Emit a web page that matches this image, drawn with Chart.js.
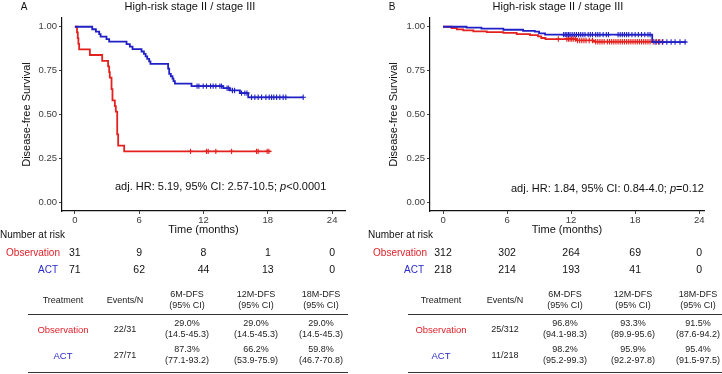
<!DOCTYPE html>
<html>
<head>
<meta charset="utf-8">
<script src="https://cdn.jsdelivr.net/npm/chart.js@4.4.1/dist/chart.umd.min.js"></script>
<style>
  body { margin: 0; background: #fff; font-family: "Liberation Sans", Arial, sans-serif; }
  #fig { position: relative; width: 722px; height: 374px; overflow: hidden; background: #fff; }
  #fig canvas { position: absolute; top: 0; }
  .c { position: absolute; white-space: pre; text-align: center; transform: translate(-50%, -50%); }
  .r { position: absolute; white-space: pre; transform: translate(-100%, -50%); }
  .l { position: absolute; white-space: pre; transform: translate(0, -50%); }
  .tab { font-size: 9px; line-height: 11px; color: #222; }
  .risk { font-size: 10.5px; color: #111; }
  .rule { position: absolute; height: 0; border-top: 1px solid #333; }
</style>
</head>
<body>
<div id="fig">
  <canvas id="kmA" width="361" height="240" style="left:0px"></canvas>
  <canvas id="kmB" width="361" height="240" style="left:361px"></canvas>
</div>
<script>
// ---- Data ----
const timeTicks = [0, 6, 12, 18, 24];
const survTicks = [0, 0.25, 0.5, 0.75, 1];

// Panel A: KM steps (time in months, survival)
const actA_t = [0, 1.62, 1.96, 2.27, 2.4, 2.95, 3.2, 4.82, 5.13, 5.38, 6.22, 6.44, 6.6, 6.75, 6.93, 7.05, 8.7, 8.8, 8.95, 9.11, 9.2, 9.33, 10.88, 13.84, 14.46, 15.4, 16.17, 21.3];
const actA_s = [1, 0.986, 0.972, 0.958, 0.944, 0.93, 0.915, 0.901, 0.887, 0.873, 0.859, 0.845, 0.831, 0.817, 0.803, 0.789, 0.761, 0.732, 0.718, 0.704, 0.69, 0.676, 0.662, 0.65, 0.637, 0.622, 0.598, 0.598];
const actA_cens = [11.4, 11.57, 11.97, 12.28, 12.66, 12.9, 13.15, 13.53, 13.68, 14.2, 14.35, 14.7, 14.9, 15.55, 15.86, 16.05, 16.48, 16.79, 17.1, 17.42, 17.82, 18.13, 18.35, 18.56, 18.82, 19.12, 19.43, 19.68, 21.3];
const obsA_t = [0, 0.2, 0.27, 0.33, 0.4, 1.4, 2.55, 3.1, 3.2, 3.26, 3.42, 3.51, 3.73, 3.82, 3.95, 4.04, 4.6, 18.25];
const obsA_s = [1, 0.968, 0.935, 0.903, 0.871, 0.839, 0.806, 0.774, 0.742, 0.71, 0.645, 0.581, 0.548, 0.516, 0.387, 0.323, 0.29, 0.29];
const obsA_cens = [10.79, 12.28, 12.44, 13.15, 14.62, 16.95, 17.1, 17.94, 18.1];

// Panel B
const actB_t = [0, 2.2, 3.6, 5.65, 7.5, 8.6, 9.0, 9.56, 19.6, 22.8];
const actB_s = [1, 0.995, 0.989, 0.983, 0.977, 0.972, 0.962, 0.955, 0.913, 0.913];
const actB_cens = [11.3, 11.45, 11.6, 11.75, 11.9, 12.1, 12.3, 12.5, 12.7, 12.9, 13.1, 13.3, 13.6, 13.8, 14.0, 14.3, 14.5, 14.7, 15.0, 15.3, 15.5, 16.4, 16.6, 16.8, 17.0, 17.2, 17.4, 17.7, 18.0, 18.3, 18.6, 18.9, 19.2, 19.4, 19.87, 20.2, 20.55, 20.97, 21.37, 21.74, 22.2, 22.68];
const obsB_t = [0, 0.8, 1.3, 1.9, 2.84, 4.1, 5.65, 6.9, 8.15, 8.9, 9.2, 9.6, 12.5, 14.1, 20.6];
const obsB_s = [1, 0.992, 0.985, 0.979, 0.974, 0.969, 0.965, 0.958, 0.952, 0.945, 0.936, 0.93, 0.922, 0.915, 0.915];
const obsB_cens = [10.8, 11.6, 11.75, 11.9, 12.05, 12.2, 12.4, 12.6, 12.8, 13.0, 13.2, 13.4, 13.7, 14.0, 14.3, 14.5, 14.7, 14.9, 15.1, 15.4, 15.6, 15.8, 16.0, 16.2, 16.4, 16.6, 16.8, 17.0, 17.2, 17.4, 17.6, 17.8, 18.0, 18.2, 18.4, 18.6, 18.8, 19.0, 19.2, 19.4, 19.7, 20.0, 20.3, 20.6];

// Number at risk
const riskObsA = [31, 9, 8, 1, 0];
const riskActA = [71, 62, 44, 13, 0];
const riskObsB = [312, 302, 264, 69, 0];
const riskActB = [218, 214, 193, 41, 0];

// Summary tables
const tableHead = ["Treatment", "Events/N", "6M-DFS\n(95% CI)", "12M-DFS\n(95% CI)", "18M-DFS\n(95% CI)"];
const groups = ["Observation", "ACT"];
const rowsA = [
  ["22/31", "29.0%\n(14.5-45.3)", "29.0%\n(14.5-45.3)", "29.0%\n(14.5-45.3)"],
  ["27/71", "87.3%\n(77.1-93.2)", "66.2%\n(53.9-75.9)", "59.8%\n(46.7-70.8)"]
];
const rowsB = [
  ["25/312", "96.8%\n(94.1-98.3)", "93.3%\n(89.9-95.6)", "91.5%\n(87.6-94.2)"],
  ["11/218", "98.2%\n(95.2-99.3)", "95.9%\n(92.2-97.8)", "95.4%\n(91.5-97.5)"]
];

const RED = "#e3211f";
const BLUE = "#2020c4";
const TXT_RED = "#e0202a";
const TXT_BLUE = "#2a2ac8";

// ---- Helpers ----
function survAt(ts, ss, t) {
  let s = ss[0];
  for (let i = 0; i < ts.length; i++) if (ts[i] <= t) s = ss[i];
  return s;
}
const curve = (ts, ss) => ts.map((t, i) => ({ x: t, y: ss[i] }));
const marks = (cs, ts, ss) => cs.map(t => ({ x: t, y: survAt(ts, ss, t) }));

function stepSet(data, color) {
  return { data, borderColor: color, borderWidth: 1.8, stepped: "before", pointRadius: 0, fill: false };
}
function censSet(data, color) {
  return { data, showLine: false, pointStyle: "cross", pointRadius: 2.7, borderColor: color, borderWidth: 1.1, backgroundColor: color };
}

function kmChart(id, sets, opt) {
  return new Chart(document.getElementById(id), {
    type: "line",
    data: { datasets: sets },
    options: {
      responsive: false,
      animation: false,
      layout: { padding: { left: 0, right: opt.padRight, top: 18, bottom: 0 } },
      plugins: { legend: { display: false }, tooltip: { enabled: false } },
      scales: {
        x: {
          type: "linear", min: opt.xmin, max: opt.xmax,
          afterBuildTicks: s => { s.ticks = timeTicks.map(v => ({ value: v })); },
          afterFit: s => { s.height = 29; },
          grid: { drawOnChartArea: false, tickLength: 3, color: "#444" },
          border: { color: "#111", width: 1.2 },
          ticks: { font: { size: 9.5, family: "Liberation Sans" }, color: "#3a3a3a", padding: 1, maxRotation: 0 },
          title: { display: true, text: "Time (months)", font: { size: 11, family: "Liberation Sans" }, color: "#111", padding: { top: 0, bottom: 3 } }
        },
        y: {
          min: -0.05, max: 1.05,
          afterBuildTicks: s => { s.ticks = survTicks.map(v => ({ value: v })); },
          afterFit: s => { s.width = opt.yWidth; },
          grid: { drawOnChartArea: false, tickLength: 3, color: "#444" },
          border: { color: "#111", width: 1.2 },
          ticks: { font: { size: 9.5, family: "Liberation Sans" }, color: "#3a3a3a", padding: 2, callback: v => v.toFixed(2) },
          title: { display: true, text: "Disease-free Survival", font: { size: 11, family: "Liberation Sans" }, color: "#111", padding: { top: opt.yTitlePad, bottom: 0 } }
        }
      }
    }
  });
}

const chartA = kmChart("kmA", [
  stepSet(curve(actA_t, actA_s), BLUE),
  censSet(marks(actA_cens, actA_t, actA_s), BLUE),
  stepSet(curve(obsA_t, obsA_s), RED),
  censSet(marks(obsA_cens, obsA_t, obsA_s), RED)
], { xmin: -1.2, xmax: 25.2, padRight: 16, yWidth: 62, yTitlePad: 20 });

const chartB = kmChart("kmB", [
  stepSet(curve(actB_t, actB_s), BLUE),
  censSet(marks(actB_cens, actB_t, actB_s), BLUE),
  stepSet(curve(obsB_t, obsB_s), RED),
  censSet(marks(obsB_cens, obsB_t, obsB_s), RED)
], { xmin: -1.22, xmax: 24.45, padRight: 18, yWidth: 69, yTitlePad: 26 });

// ---- HTML text layers ----
const fig = document.getElementById("fig");
function addText(txt, x, y, cls, style) {
  const d = document.createElement("div");
  d.className = cls;
  d.textContent = txt;
  d.style.left = x + "px";
  d.style.top = y + "px";
  Object.assign(d.style, style || {});
  fig.appendChild(d);
  return d;
}
function addRule(x1, x2, y) {
  const d = document.createElement("div");
  d.className = "rule";
  d.style.left = x1 + "px";
  d.style.width = (x2 - x1) + "px";
  d.style.top = y + "px";
  fig.appendChild(d);
}

function panelText(o) {
  addText(o.tag, o.tagX, 6, "c", { fontSize: "10px", color: "#111" });
  addText("High-risk stage II / stage III", o.titleX, 6, "c", { fontSize: "11px", color: "#111" });
  const hr = addText("", o.hrX, o.hrY, "l", { fontSize: "11px", color: "#111" });
  hr.innerHTML = o.hr;

  // number at risk, aligned on the chart's own x scale
  addText("Number at risk", o.nrX, 234, "l", { fontSize: "10px", color: "#111" });
  addText("Observation", o.obsLabX, 252, "r risk", { color: TXT_RED, fontSize: "10px" });
  addText("ACT", o.actLabX, 269, "r risk", { color: TXT_BLUE, fontSize: "10px" });
  const xs = o.chart.scales.x;
  timeTicks.forEach((t, i) => {
    const px = o.offset + xs.getPixelForValue(t);
    addText(String(o.riskObs[i]), px, 252, "c risk");
    addText(String(o.riskAct[i]), px, 269, "c risk");
  });

  // summary table
  tableHead.forEach((h, j) => addText(h, o.cols[j], 300, "c tab"));
  addRule(o.ruleX1, o.ruleX2, 314);
  groups.forEach((g, i) => {
    const y = i === 0 ? 329 : 354.5;
    addText(g, o.cols[0], y, "c tab", { color: i === 0 ? TXT_RED : TXT_BLUE, fontSize: "9.5px" });
    o.rows[i].forEach((cell, j) => addText(cell, o.cols[j + 1], y, "c tab"));
  });
  addRule(o.ruleX1, o.ruleX2, 372);
}

panelText({
  chart: chartA, offset: 0, tag: "A", tagX: 24, titleX: 190,
  hr: "adj. HR: 5.19, 95% CI: 2.57-10.5; <i>p</i>&lt;0.0001", hrX: 115, hrY: 186,
  nrX: 0, obsLabX: 60, actLabX: 58, riskObs: riskObsA, riskAct: riskActA,
  cols: [63, 125, 187, 256, 321], rows: rowsA, ruleX1: 28, ruleX2: 348
});
panelText({
  chart: chartB, offset: 361, tag: "B", tagX: 392, titleX: 558,
  hr: "adj. HR: 1.84, 95% CI: 0.84-4.0; <i>p</i>=0.12", hrX: 511, hrY: 188,
  nrX: 368, obsLabX: 427, actLabX: 424, riskObs: riskObsB, riskAct: riskActB,
  cols: [441, 505, 565, 633, 698], rows: rowsB, ruleX1: 408, ruleX2: 722
});
</script>
</body>
</html>
